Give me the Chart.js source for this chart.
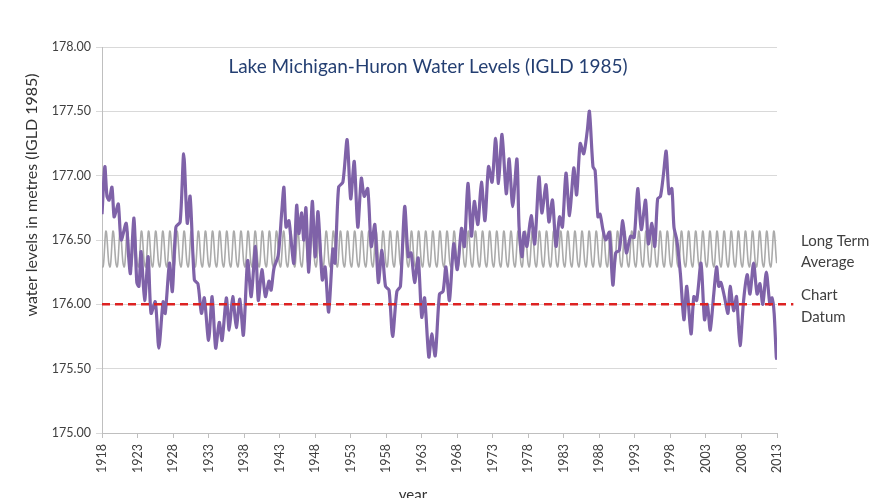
<!DOCTYPE html>
<html>
<head>
<meta charset="utf-8">
<script src="https://cdn.jsdelivr.net/npm/chart.js@4.4.0/dist/chart.umd.min.js"></script>
<style>
  html, body { margin: 0; padding: 0; background: #fff; }
</style>
</head>
<body>
<canvas id="chart" width="875" height="498"></canvas>
<script>
// Lake Michigan-Huron levels (decimal year, metres IGLD 1985)
const levelYears = [
  1918.0, 1918.4, 1918.7, 1919.0, 1919.4, 1919.7, 1920.0, 1920.3, 1920.7, 1921.4,
  1921.75, 1922.0, 1922.5, 1922.9, 1923.2, 1923.5, 1924.0, 1924.5, 1924.9, 1925.5,
  1926.0, 1926.6, 1926.9, 1927.5, 1927.9, 1928.4, 1929.0, 1929.5, 1930.0, 1930.4,
  1931.0, 1931.5, 1932.0, 1932.4, 1933.0, 1933.5, 1934.0, 1934.5, 1934.9, 1935.5,
  1935.9, 1936.4, 1936.9, 1937.4, 1937.9, 1938.5, 1939.0, 1939.6, 1940.0, 1940.5,
  1941.0, 1941.5, 1941.8, 1942.2, 1942.8, 1943.3, 1943.6, 1943.9, 1944.3, 1944.6,
  1945.0, 1945.4, 1945.7, 1946.1, 1946.4, 1946.7, 1947.1, 1947.6, 1948.0, 1948.4,
  1949.0, 1949.4, 1949.9, 1950.5, 1950.8, 1951.3, 1951.9, 1952.5, 1953.0, 1953.5,
  1954.0, 1954.5, 1954.9, 1955.4, 1955.9, 1956.4, 1956.9, 1957.4, 1957.9, 1958.4,
  1958.9, 1959.5, 1960.0, 1960.6, 1961.1, 1961.5, 1962.0, 1962.5, 1963.0, 1963.4,
  1964.0, 1964.4, 1964.9, 1965.5, 1966.0, 1966.4, 1966.9, 1967.5, 1968.0, 1968.6,
  1969.0, 1969.5, 1970.0, 1970.4, 1970.9, 1971.4, 1971.9, 1972.4, 1972.9, 1973.4,
  1973.8, 1974.3, 1974.9, 1975.3, 1975.8, 1976.4, 1976.7, 1977.1, 1977.4, 1977.8,
  1978.4, 1978.9, 1979.5, 1979.9, 1980.5, 1980.9, 1981.4, 1981.9, 1982.4, 1982.8,
  1983.3, 1983.8, 1984.4, 1984.8, 1985.3, 1985.8, 1986.3, 1986.6, 1987.1, 1987.4,
  1987.8, 1988.1, 1988.5, 1988.9, 1989.4, 1989.9, 1990.3, 1990.8, 1991.3, 1991.8,
  1992.4, 1992.9, 1993.4, 1993.9, 1994.5, 1994.9, 1995.4, 1995.8, 1996.2, 1996.6,
  1997.0, 1997.4, 1997.8, 1998.2, 1998.5, 1998.9, 1999.4, 1999.9, 2000.3, 2000.9,
  2001.3, 2001.7, 2002.3, 2002.8, 2003.2, 2003.6, 2004.1, 2004.5, 2004.8, 2005.1,
  2005.6, 2006.1, 2006.4, 2006.9, 2007.3, 2007.8, 2008.3, 2008.8, 2009.2, 2009.7,
  2010.2, 2010.6, 2011.0, 2011.5, 2012.0, 2012.3, 2012.6, 2012.9, 2013.0
];
const levels = [
  176.70, 177.07, 176.84, 176.81, 176.91, 176.68, 176.73, 176.78, 176.50, 176.63,
  176.37, 176.24, 176.67, 176.17, 176.14, 176.41, 176.03, 176.37, 175.93, 176.02,
  175.66, 176.02, 175.93, 176.32, 176.10, 176.60, 176.64, 177.17, 176.63, 176.84,
  176.19, 176.16, 175.93, 176.05, 175.72, 176.06, 175.66, 175.86, 175.72, 176.05,
  175.80, 176.06, 175.82, 176.04, 175.76, 176.34, 176.06, 176.45, 176.03, 176.27,
  176.06, 176.18, 176.11, 176.28, 176.38, 176.72, 176.91, 176.60, 176.65, 176.50,
  176.32, 176.77, 176.55, 176.71, 176.50, 176.75, 176.25, 176.80, 176.37, 176.72,
  176.19, 176.29, 175.94, 176.43, 176.32, 176.91, 176.95, 177.28, 176.82, 177.11,
  176.60, 176.98, 176.84, 176.90, 176.45, 176.62, 176.17, 176.42, 176.14, 176.11,
  175.75, 176.10, 176.14, 176.76, 176.37, 176.40, 176.17, 176.36, 175.90, 176.05,
  175.59, 175.77, 175.60, 176.08, 176.10, 176.29, 176.03, 176.47, 176.27, 176.59,
  176.45, 176.94, 176.53, 176.80, 176.62, 176.95, 176.65, 177.07, 176.95, 177.29,
  176.94, 177.32, 176.86, 177.13, 176.76, 177.13, 176.60, 176.37, 176.56, 176.45,
  176.69, 176.47, 176.99, 176.71, 176.93, 176.64, 176.81, 176.45, 176.68, 176.60,
  177.02, 176.69, 177.06, 176.85, 177.25, 177.17, 177.35, 177.50, 177.07, 177.04,
  176.68, 176.70, 176.58, 176.50, 176.56, 176.15, 176.40, 176.42, 176.65, 176.40,
  176.53, 176.52, 176.90, 176.58, 176.81, 176.47, 176.63, 176.45, 176.82, 176.84,
  177.00, 177.19, 176.86, 176.90, 176.60, 176.50, 176.24, 175.88, 176.14, 175.77,
  176.06, 176.03, 176.32, 175.88, 176.00, 175.80, 176.08, 176.29, 176.14, 176.17,
  176.06, 175.93, 176.14, 175.95, 176.06, 175.68, 176.03, 176.23, 176.08, 176.32,
  176.08, 176.16, 176.00, 176.25, 176.00, 176.05, 175.93, 175.59, 175.57
];

// long term monthly average, Jan..Dec, repeated every year
const monthlyAverage = [176.30, 176.29, 176.31, 176.37, 176.45, 176.53, 176.57, 176.56, 176.51, 176.44, 176.37, 176.32];
const firstYear = 1918;
const lastYear = 2013;

// chart datum line
const datumYears = [1918, 2015.3];
const datumLevel = 176.00;

const yearTicks = [1918, 1923, 1928, 1933, 1938, 1943, 1948, 1953, 1958, 1963, 1968, 1973, 1978, 1983, 1988, 1993, 1998, 2003, 2008, 2013];

const titleText = 'Lake Michigan-Huron Water Levels (IGLD 1985)';
const yTitle = 'water levels in metres (IGLD 1985)';
const xTitle = 'year';

const FONT = 'Lato';

const levelPoints = levelYears.map((t, i) => ({ x: t, y: levels[i] }));
const averagePoints = [];
for (let yr = firstYear; yr < lastYear; yr++) {
  monthlyAverage.forEach((v, m) => averagePoints.push({ x: yr + (m + 0.5) / 12, y: v }));
}
const datumPoints = datumYears.map(t => ({ x: t, y: datumLevel }));

// texts that sit inside / around the plot
const textPlugin = {
  id: 'texts',
  afterDraw(chart) {
    const ctx = chart.ctx;
    const a = chart.chartArea;
    ctx.save();
    ctx.textBaseline = 'middle';

    ctx.fillStyle = '#243F72';
    ctx.font = `19px ${FONT}`;
    ctx.textAlign = 'center';
    ctx.fillText(titleText, 428, 67);

    ctx.fillStyle = '#333';
    ctx.font = `16px ${FONT}`;
    ctx.save();
    ctx.translate(32, 195);
    ctx.rotate(-Math.PI / 2);
    ctx.fillText(yTitle, 0, 0);
    ctx.restore();

    ctx.font = `15px ${FONT}`;
    ctx.textBaseline = 'top';
    ctx.fillText(xTitle, 413, 488);

    ctx.textAlign = 'left';
    ctx.textBaseline = 'middle';
    ctx.fillStyle = '#404040';
    ctx.fillText('Long Term', a.right + 24, 241);
    ctx.fillText('Average', a.right + 24, 262);
    ctx.fillText('Chart', a.right + 24, 295);
    ctx.fillText('Datum', a.right + 24, 317);
    ctx.restore();
  }
};

new Chart(document.getElementById('chart'), {
  type: 'line',
  data: {
    datasets: [
      {
        label: 'Chart Datum',
        data: datumPoints,
        borderColor: '#DD2222',
        borderWidth: 2.5,
        borderDash: [8, 5],
        pointRadius: 0,
        clip: false
      },
      {
        label: 'Water level',
        data: levelPoints,
        borderColor: '#7F62A8',
        borderWidth: 3.2,
        pointRadius: 0,
        tension: 0.25
      },
      {
        label: 'Long Term Average',
        data: averagePoints,
        borderColor: '#ABABAB',
        borderWidth: 1.6,
        pointRadius: 0,
        tension: 0.4
      }
    ]
  },
  options: {
    responsive: false,
    animation: false,
    layout: { padding: { top: 47, right: 98, left: 0, bottom: 0 } },
    plugins: { legend: { display: false }, tooltip: { enabled: false }, title: { display: false } },
    scales: {
      x: {
        type: 'linear',
        min: firstYear,
        max: lastYear,
        afterBuildTicks: s => { s.ticks = yearTicks.map(v => ({ value: v })); },
        afterFit: s => { s.height = 65; },
        grid: { drawOnChartArea: false, tickLength: 5, color: '#BFBFBF' },
        border: { color: '#BFBFBF' },
        ticks: {
          autoSkip: false,
          minRotation: 90,
          maxRotation: 90,
          padding: 6,
          color: '#404040',
          font: { family: FONT, size: 12.5 },
          callback: v => String(v)
        }
      },
      y: {
        min: 175,
        max: 178,
        afterFit: s => { s.width = 102; },
        grid: { color: '#D9D9D9', tickLength: 6 },
        border: { color: '#BFBFBF' },
        ticks: {
          stepSize: 0.5,
          padding: 5,
          color: '#404040',
          font: { family: FONT, size: 12.5 },
          callback: v => v.toFixed(2)
        }
      }
    }
  },
  plugins: [textPlugin]
});
</script>
</body>
</html>
